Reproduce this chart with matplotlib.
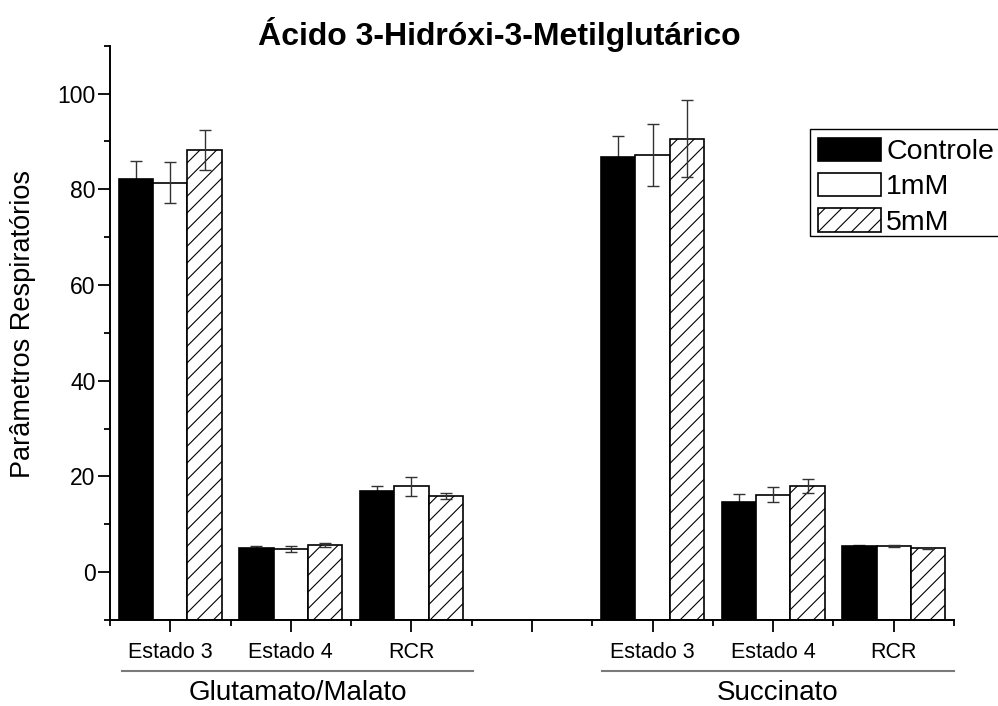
import matplotlib
matplotlib.use("Agg")
import matplotlib.pyplot as plt
import matplotlib.transforms as mtransforms
from matplotlib.patches import Patch, Rectangle
from matplotlib.ticker import FixedLocator, MultipleLocator
import numpy as np

plt.rcParams['font.family'] = ['Liberation Sans', 'DejaVu Sans']
plt.rcParams['hatch.linewidth'] = 0.8

# Category layout: two substrate groups separated by an empty slot
tick_labels = ['Estado 3', 'Estado 4', 'RCR', '', 'Estado 3', 'Estado 4', 'RCR']
positions = [1, 2, 3, 5, 6, 7]
groups = ['Glutamato/Malato', 'Succinato']
series_names = ['Controle', '1mM', '5mM']

# Respiratory parameters (mean ± error)
controle = [82.1, 5.1, 16.9, 86.8, 14.7, 5.5]
controle_err = [3.8, 0.3, 1.0, 4.4, 1.7, 0.1]
mm1 = [81.4, 4.8, 17.9, 87.2, 16.2, 5.4]
mm1_err = [4.3, 0.6, 1.9, 6.5, 1.5, 0.2]
mm5 = [88.2, 5.6, 15.9, 90.6, 18.0, 5.0]
mm5_err = [4.1, 0.4, 0.7, 8.1, 1.5, 0.1]

ymin, ymax = -10, 110

W, H = 998, 706
fig = plt.figure(figsize=(W / 100, H / 100), dpi=100)
ax = fig.add_axes([110 / W, 1 - 620 / H, (954 - 110) / W, (620 - 45.7) / H])

width = 0.285
styles = [
    dict(facecolor='black', edgecolor='black', hatch=None),
    dict(facecolor='white', edgecolor='black', hatch=None),
    dict(facecolor='white', edgecolor='black', hatch='//'),
]
values = [controle, mm1, mm5]
errors = [controle_err, mm1_err, mm5_err]
# solid black bars hide the lower half of their error bars
err_z = [1.5, 3, 3]
x = np.array(positions, dtype=float)
for i, (vals, errs, st) in enumerate(zip(values, errors, styles)):
    xi = x + (i - 1) * width
    v = np.array(vals)
    ax.bar(xi, v - ymin, bottom=ymin, width=width, linewidth=1.2,
           zorder=2, **st)
    ax.errorbar(xi, v, yerr=errs, fmt='none', ecolor='#333333',
                elinewidth=1.0, capsize=4.3, capthick=1.0, zorder=err_z[i])

ax.set_xlim(0.5, 7.5)
ax.set_ylim(ymin, ymax)

for s in ['top', 'right']:
    ax.spines[s].set_visible(False)
for s in ['left', 'bottom']:
    ax.spines[s].set_linewidth(1.4)

ax.xaxis.set_major_locator(FixedLocator(range(1, 8)))
ax.set_xticklabels(tick_labels, fontsize=15.5)
ax.xaxis.set_minor_locator(FixedLocator(np.arange(0.5, 8.0, 1.0)))
ax.set_yticks([0, 20, 40, 60, 80, 100])
ax.yaxis.set_minor_locator(MultipleLocator(10))
ax.tick_params(axis='y', which='major', length=8.5, width=1.3, labelsize=16.5, pad=2)
ax.tick_params(axis='y', which='minor', length=4.5, width=1.3)
ax.tick_params(axis='x', which='major', length=8.5, width=1.3, pad=7)
ax.tick_params(axis='x', which='minor', length=4.5, width=1.3)

# Group brackets under the category labels
trans = mtransforms.blended_transform_factory(ax.transData, ax.transAxes)
line_y = (620 - 671) / (620 - 45.7)
text_y = (620 - 693) / (620 - 45.7)
for (x0, x1), name in zip([(0.6, 3.51), (4.58, 7.5)], groups):
    ax.plot([x0, x1], [line_y, line_y], transform=trans, color='#7a7a7a',
            linewidth=1.5, clip_on=False)
    ax.text((x0 + x1) / 2, text_y, name, transform=trans, ha='center',
            va='center', fontsize=20)

fig.text(23 / W, 1 - 324 / H, 'Parâmetros Respiratórios', rotation=90,
         ha='center', va='center', fontsize=19.5)
fig.text(0.5, 1 - 35 / H, 'Ácido 3-Hidróxi-3-Metilglutárico',
         ha='center', va='center', fontsize=23, fontweight='bold')

# Legend entries without their own frame; the box is drawn separately
handles = [Patch(linewidth=1.2, **st) for st in styles]
leg = fig.legend(handles, series_names, loc='upper left',
                 bbox_to_anchor=(818 / W, 1 - 137.5 / H), fontsize=20.5,
                 frameon=False, handlelength=2.2, handleheight=0.9,
                 handletextpad=0.2, labelspacing=0.27, borderpad=0,
                 borderaxespad=0)
fig.add_artist(Rectangle((810 / W, 1 - 236 / H), 200 / W, 107 / H,
                         transform=fig.transFigure, facecolor='none',
                         edgecolor='black', linewidth=1.0))

fig.savefig('out.png', dpi=100)
